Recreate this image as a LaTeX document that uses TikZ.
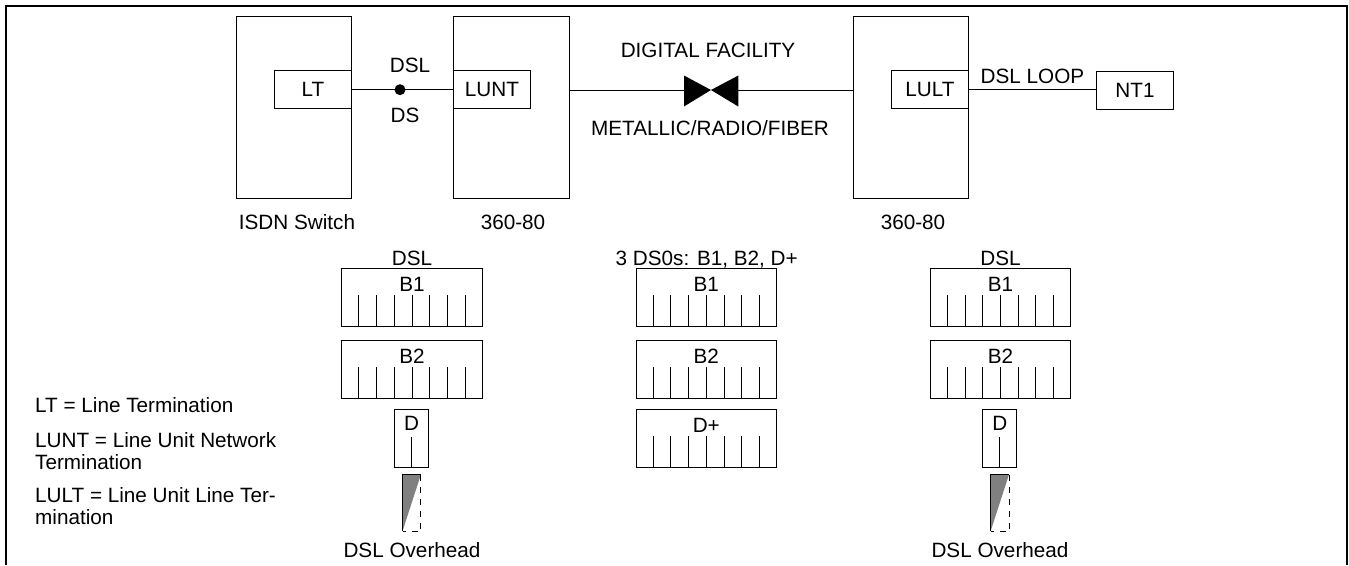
\documentclass[tikz,border=0pt]{standalone}
\usepackage{fontspec}
\setmainfont{Liberation Sans}
\usetikzlibrary{calc}
\begin{document}
\begin{tikzpicture}[x=1pt,y=-1pt,
  every node/.style={font=\fontsize{20.7}{22}\selectfont},
  conn/.style={line width=1pt},
  box/.style={draw, line width=1pt, inner sep=0pt, anchor=center},
  lbl/.style={inner sep=0pt, text height=14.9pt, text depth=0pt},
  frm/.style={box, minimum width=140.6pt, minimum height=57.5pt},
  legend/.style={anchor=north west, align=left, inner sep=0pt},
]
\useasboundingbox (0,0) rectangle (1349,565);
% outer frame (open at bottom)
\draw[line width=2.5pt] (6,565) -- (6,6) -- (1347,6) -- (1347,565);

% top row
\node[box,minimum width=115pt,minimum height=181.6pt] (isdn) at (294.2,107.5) {};
\node[box,minimum width=77.4pt,minimum height=38pt] (lt) at (313,89.7) {LT};
\node[box,minimum width=116pt,minimum height=181.6pt] (sw2) at (511.3,107.5) {};
\node[box,minimum width=77.4pt,minimum height=38pt] (lunt) at (492,89.7) {LUNT};
\node[box,minimum width=115pt,minimum height=181.6pt] (sw3) at (910.8,107.5) {};
\node[box,minimum width=76.6pt,minimum height=38pt] (lult) at (930,89.7) {LULT};
\node[box,minimum width=76.6pt,minimum height=38.3pt] (nt1) at (1135,90.8) {NT1};

\draw[conn] (lt.east) -- (lunt.west);
\node[circle, fill, inner sep=0pt, minimum size=11pt] (dot) at (400,89.7) {};

\coordinate (bl) at (684,90);
\coordinate (br) at (738.3,90);
\coordinate (bc) at (711,90);
\fill (684,75.5) -- (bc) -- (684,106.5) -- cycle;
\fill (738.3,75.5) -- (bc) -- (738.3,106.5) -- cycle;
\draw[conn] (sw2.east |- bl) -- (bl);
\draw[conn] (br) -- (sw3.west |- br);
\draw[conn] (lult.east) -- (nt1.west |- lult.east);

\node[lbl] (dsl) at (410,65) {DSL};
\node[lbl] (ds) at (405,115) {DS};
\node[lbl] (df) at (708,50) {DIGITAL FACILITY};
\node[lbl] (mrf) at (710,128) {METALLIC/RADIO/FIBER};
\node[lbl] (loop) at (1032.5,76) {DSL LOOP};
\node[lbl] (isdnl) at (297,222) {ISDN Switch};
\node[lbl] (sw2l) at (513,222) {360-80};
\node[lbl] (sw3l) at (913,222) {360-80};

% frames
\node[lbl] (hl) at (412,258) {DSL};
\node[lbl] (hm) at (706.7,258) {3 DS0s: B1, B2, D+};
\node[lbl] (hr) at (1000.5,258) {DSL};
\foreach \n/\x/\y/\t in {l1/412/297.7/B1, l2/412/369.3/B2, m1/706.3/297.7/B1, m2/706.3/369.3/B2, m3/706.3/438.7/D+, r1/1000.5/297.7/B1, r2/1000.5/369.3/B2} {
  \node[frm] (\n) at (\x,\y) {};
  \node[lbl] (\n-t) at ($(\n.north)+(0,15.5)$) {\t};
  \foreach \i in {1,...,7}
    \draw[conn] ($(\n.south west)!\i/8!(\n.south east)$) -- ++(0,-32);
}

% D boxes and overhead
\foreach \n/\x in {dl/411.7, dr/999.8} {
  \node[box, minimum width=34pt, minimum height=58.4pt] (\n) at (\x,438.5) {};
  \node[lbl] (\n-t) at ($(\n.north)+(0,14)$) {D};
  \draw[conn] (\n.south) -- ++(0,-31);
  \begin{scope}[shift={(\n.south)}]
    \fill[black!50] (-9.2,6.3) -- (9.2,6.3) -- (-9.2,63) -- cycle;
    \draw[conn] (-9.2,63) -- (-9.2,6.3) -- (9.2,6.3);
    \draw[conn, dash pattern=on 6pt off 6pt] (9.2,6.3) -- (9.2,63) -- (-9.2,63);
  \end{scope}
}
\node[lbl] (ohl) at (412,550) {DSL Overhead};
\node[lbl] (ohr) at (1000,550) {DSL Overhead};

% legend
\node[legend] (lg1) at (35,397.6) {LT = Line Termination};
\node[legend] (lg2) at (35,432.6) {LUNT = Line Unit Network\\Termination};
\node[legend] (lg3) at (35,487.6) {LULT = Line Unit Line Ter-\\mination};
\end{tikzpicture}
\end{document}
